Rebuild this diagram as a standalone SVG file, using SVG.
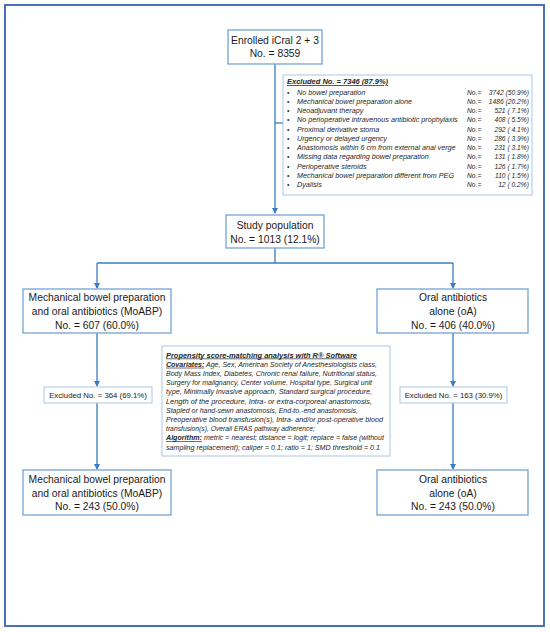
<svg xmlns="http://www.w3.org/2000/svg" width="550" height="632" viewBox="0 0 550 632">
<defs>
<marker id="ah" markerWidth="6" markerHeight="6" refX="5" refY="3" orient="auto" markerUnits="userSpaceOnUse">
<path d="M0,0 L6,3 L0,6 Z" fill="#3b7dc0"/>
</marker>
<style>
.frame{fill:none;stroke:#4a70b8;stroke-width:2}
.box{fill:#fff;stroke:#74a3d4;stroke-width:1.3}
.lbox{fill:#fff;stroke:#a9c6e6;stroke-width:1}
.conn{fill:none;stroke:#3b7dc0;stroke-width:1.3}
.t{font-family:"Liberation Sans",Arial,sans-serif;font-size:10.3px;fill:#1a1a1a;text-anchor:middle}
.ts{font-family:"Liberation Sans",Arial,sans-serif;font-size:7.8px;fill:#1a1a1a;text-anchor:middle}
.it{font-family:"Liberation Sans",Arial,sans-serif;font-style:italic;font-size:6.6px;fill:#262626}
.li{font-size:7.2px}
.nm{font-size:6.7px}
.hd{font-weight:bold;text-decoration:underline}
.e{text-anchor:end}
</style>
</defs>
<rect class="frame" x="5" y="5" width="539" height="621"/>
<g id="connectors">
<path class="conn" d="M275,64 V213" marker-end="url(#ah)"/>
<path class="conn" d="M275,123 H283"/>
<path class="conn" d="M275,248 V263 M97,263 H453"/>
<path class="conn" d="M97,263 V288" marker-end="url(#ah)"/>
<path class="conn" d="M453,263 V288" marker-end="url(#ah)"/>
<path class="conn" d="M97,333 V386" marker-end="url(#ah)"/>
<path class="conn" d="M453,333 V386" marker-end="url(#ah)"/>
<path class="conn" d="M97,403 V469" marker-end="url(#ah)"/>
<path class="conn" d="M453,403 V469" marker-end="url(#ah)"/>
</g>
<g id="enrolled">
<rect class="box" x="228" y="30" width="94" height="34"/>
<text class="t" x="275" y="44">Enrolled iCral 2 + 3</text>
<text class="t" x="275" y="57">No. = 8359</text>
</g>
<g id="excluded-main" xml:space="preserve">
<rect class="lbox" x="283" y="75" width="249" height="120"/>
<text class="it hd" x="287" y="84" style="font-size:7.5px">Excluded No. = 7346 (87.9%)</text>
<g class="it">
<text x="287" y="94.5">•</text><text class="li" x="297" y="94.5">No bowel preparation</text><text class="nm" x="467" y="94.5">No.=</text><text class="nm e" x="529" y="94.5">3742 (50.9%)</text>
<text x="287" y="103.7">•</text><text class="li" x="297" y="103.7">Mechanical bowel preparation alone</text><text class="nm" x="467" y="103.7">No.=</text><text class="nm e" x="529" y="103.7">1486 (20.2%)</text>
<text x="287" y="113">•</text><text class="li" x="297" y="113">Neoadjuvant therapy</text><text class="nm" x="467" y="113">No.=</text><text class="nm e" x="529" y="113">521 (  7.1%)</text>
<text x="287" y="122.2">•</text><text class="li" x="297" y="122.2">No perioperative intravenous antibiotic prophylaxis</text><text class="nm" x="467" y="122.2">No.=</text><text class="nm e" x="529" y="122.2">408 (  5.5%)</text>
<text x="287" y="131.5">•</text><text class="li" x="297" y="131.5">Proximal derivative stoma</text><text class="nm" x="467" y="131.5">No.=</text><text class="nm e" x="529" y="131.5">292 (  4.1%)</text>
<text x="287" y="140.7">•</text><text class="li" x="297" y="140.7">Urgency or delayed urgency</text><text class="nm" x="467" y="140.7">No.=</text><text class="nm e" x="529" y="140.7">286 (  3.9%)</text>
<text x="287" y="150">•</text><text class="li" x="297" y="150">Anastomosis within 6 cm from external anal verge</text><text class="nm" x="467" y="150">No.=</text><text class="nm e" x="529" y="150">231 (  3.1%)</text>
<text x="287" y="159.2">•</text><text class="li" x="297" y="159.2">Missing data regarding bowel preparation</text><text class="nm" x="467" y="159.2">No.=</text><text class="nm e" x="529" y="159.2">131 (  1.8%)</text>
<text x="287" y="168.5">•</text><text class="li" x="297" y="168.5">Perioperative steroids</text><text class="nm" x="467" y="168.5">No.=</text><text class="nm e" x="529" y="168.5">126 (  1.7%)</text>
<text x="287" y="177.7">•</text><text class="li" x="297" y="177.7">Mechanical bowel preparation different from PEG</text><text class="nm" x="467" y="177.7">No.=</text><text class="nm e" x="529" y="177.7">110 (  1.5%)</text>
<text x="287" y="187">•</text><text class="li" x="297" y="187">Dyalisis</text><text class="nm" x="467" y="187">No.=</text><text class="nm e" x="529" y="187">12 (  0.2%)</text>
</g>
</g>
<g id="study">
<rect class="box" x="226" y="215" width="98" height="33"/>
<text class="t" x="275" y="229">Study population</text>
<text class="t" x="275" y="243">No. = 1013 (12.1%)</text>
</g>
<g id="moabp">
<rect class="box" x="23" y="289" width="148" height="44"/>
<text class="t" x="97" y="301">Mechanical bowel preparation</text>
<text class="t" x="97" y="315">and oral antibiotics (MoABP)</text>
<text class="t" x="97" y="329">No. = 607 (60.0%)</text>
</g>
<g id="oa">
<rect class="box" x="377" y="289" width="151" height="44"/>
<text class="t" x="453" y="301">Oral antibiotics</text>
<text class="t" x="453" y="315">alone (oA)</text>
<text class="t" x="453" y="329">No. = 406 (40.0%)</text>
</g>
<g id="propensity">
<rect class="lbox" x="162" y="346" width="228" height="110"/>
<g class="it">
<text x="166" y="357.5" class="hd" style="font-size:7px" textLength="191" lengthAdjust="spacingAndGlyphs">Propensity score-matching analysis with R® Software</text>
<text x="166" y="366.7" textLength="211" lengthAdjust="spacingAndGlyphs"><tspan class="hd">Covariates:</tspan> Age, Sex, American Society of Anesthesiologists class,</text>
<text x="166" y="375.9" textLength="211" lengthAdjust="spacingAndGlyphs">Body Mass Index, Diabetes, Chronic renal failure, Nutritional status,</text>
<text x="166" y="385.1" textLength="206" lengthAdjust="spacingAndGlyphs">Surgery for malignancy, Center volume, Hospital type, Surgical unit</text>
<text x="166" y="394.3" textLength="206" lengthAdjust="spacingAndGlyphs">type, Minimally invasive approach, Standard surgical procedure,</text>
<text x="166" y="403.5" textLength="206" lengthAdjust="spacingAndGlyphs">Length of the procedure, Intra- or extra-corporeal anastomosis,</text>
<text x="166" y="412.7" textLength="192" lengthAdjust="spacingAndGlyphs">Stapled or hand-sewn anastomosis, End-to.-end anastomosis,</text>
<text x="166" y="421.9" textLength="217" lengthAdjust="spacingAndGlyphs">Preoperative blood transfusion(s), Intra- and/or post-operative blood</text>
<text x="166" y="431.1" textLength="149" lengthAdjust="spacingAndGlyphs">transfusion(s), Overall ERAS pathway adherence;</text>
<text x="166" y="440.3" textLength="218" lengthAdjust="spacingAndGlyphs"><tspan class="hd">Algorithm:</tspan> metric = nearest; distance = logit; replace = false (without</text>
<text x="166" y="449.5" textLength="214" lengthAdjust="spacingAndGlyphs">sampling replacement); caliper = 0.1; ratio = 1; SMD threshold = 0.1</text>
</g>
</g>
<g id="excluded-left">
<rect class="lbox" x="44" y="387" width="108" height="16"/>
<text class="ts" x="98" y="398">Excluded No. = 364 (69.1%)</text>
</g>
<g id="excluded-right">
<rect class="lbox" x="400" y="387" width="107" height="16"/>
<text class="ts" x="453.5" y="398">Excluded No. = 163 (30.9%)</text>
</g>
<g id="moabp-matched">
<rect class="box" x="23" y="470" width="148" height="45"/>
<text class="t" x="97" y="483">Mechanical bowel preparation</text>
<text class="t" x="97" y="496.5">and oral antibiotics (MoABP)</text>
<text class="t" x="97" y="510">No. = 243 (50.0%)</text>
</g>
<g id="oa-matched">
<rect class="box" x="377" y="470" width="151" height="45"/>
<text class="t" x="453" y="483">Oral antibiotics</text>
<text class="t" x="453" y="496.5">alone (oA)</text>
<text class="t" x="453" y="510">No. = 243 (50.0%)</text>
</g>
</svg>
